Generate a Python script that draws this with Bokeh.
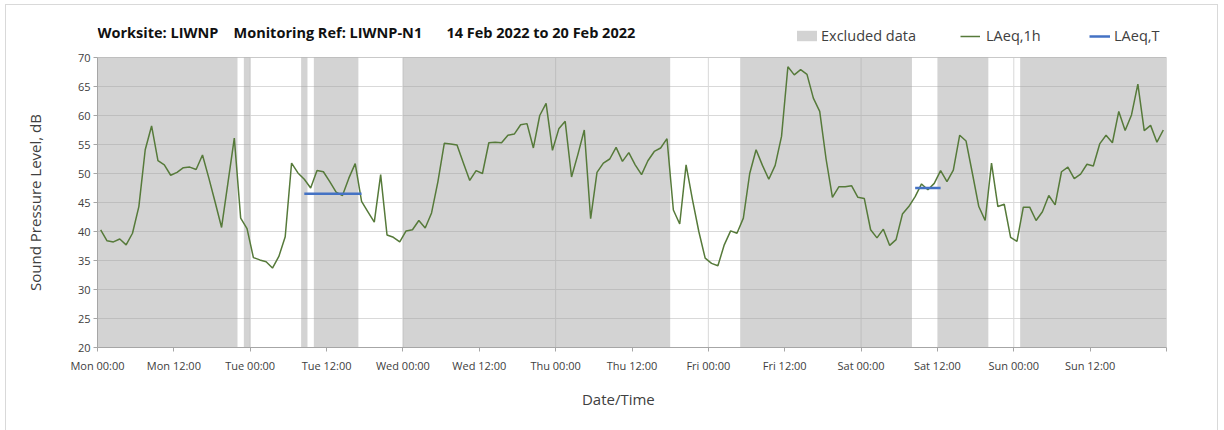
from bokeh.plotting import figure
from bokeh.models import (Range1d, FixedTicker, Legend, LegendItem, ColumnDataSource,
                          Label, BoxAnnotation)
from bokeh.embed import file_html
from bokeh.resources import INLINE

# ---------------- data ----------------
tick_hours = [0, 12, 24, 36, 48, 60, 72, 84, 96, 108, 120, 132, 144, 156, 168]
tick_labels = ["Mon 00:00", "Mon 12:00", "Tue 00:00", "Tue 12:00", "Wed 00:00",
               "Wed 12:00", "Thu 00:00", "Thu 12:00", "Fri 00:00", "Fri 12:00",
               "Sat 00:00", "Sat 12:00", "Sun 00:00", "Sun 12:00", ""]
day_hours = [0, 24, 48, 72, 96, 120, 144, 168]
y_ticks = [20, 25, 30, 35, 40, 45, 50, 55, 60, 65, 70]

# hourly LAeq,1h (dB), Mon 00:00 .. Sun 23:00, plotted at mid-hour
laeq_1h = [
    40.3, 38.4, 38.2, 38.7, 37.7, 39.7, 44.3, 54.1, 58.2, 52.2,
    51.5, 49.7, 50.2, 51.0, 51.1, 50.7, 53.2, 49.2, 45.0, 40.7,
    48.4, 56.1, 42.3, 40.5, 35.5, 35.1, 34.8, 33.7, 35.7, 39.1,
    51.8, 50.1, 49.0, 47.5, 50.5, 50.3, 48.6, 46.8, 46.2, 49.2,
    51.7, 45.2, 43.4, 41.6, 49.8, 39.4, 39.0, 38.2, 40.1, 40.3,
    41.9, 40.6, 43.2, 48.6, 55.2, 55.1, 54.9, 51.8, 48.8, 50.5,
    50.0, 55.3, 55.4, 55.3, 56.6, 56.8, 58.4, 58.6, 54.4, 60.0,
    62.1, 54.0, 57.7, 59.0, 49.4, 53.3, 57.5, 42.2, 50.2, 51.8,
    52.5, 54.5, 52.1, 53.6, 51.5, 49.8, 52.2, 53.8, 54.4, 56.0,
    43.7, 41.3, 51.5, 45.5, 40.0, 35.4, 34.5, 34.1, 37.7, 40.1,
    39.7, 42.3, 50.0, 54.1, 51.4, 49.0, 51.4, 56.4, 68.4, 67.0,
    67.9, 67.1, 63.0, 60.7, 52.5, 45.9, 47.7, 47.7, 47.9, 45.9,
    45.7, 40.3, 38.9, 40.4, 37.6, 38.6, 43.0, 44.3, 46.0, 48.2,
    47.2, 48.3, 50.5, 48.6, 50.6, 56.6, 55.6, 50.0, 44.3, 41.9,
    51.8, 44.3, 44.7, 39.0, 38.3, 44.2, 44.2, 41.9, 43.4, 46.2,
    44.6, 50.3, 51.1, 49.1, 49.9, 51.6, 51.3, 55.1, 56.6, 55.3,
    60.7, 57.4, 60.1, 65.4, 57.4, 58.3, 55.4, 57.5]
hours = [h + 0.5 for h in range(len(laeq_1h))]

# excluded periods (hours from Mon 00:00)
excl_start = [0, 23, 32, 34, 48, 101, 132, 145]
excl_end = [22, 24, 33, 41, 90, 128, 140, 168]

# LAeq,T periods
laeqT_start = [32.5, 128.5]
laeqT_end = [41.5, 132.5]
laeqT_val = [46.5, 47.5]

title_parts = ["Worksite: LIWNP", "Monitoring Ref: LIWNP-N1", "14 Feb 2022 to 20 Feb 2022"]

FONT = "Open Sans"
TXT = "#404040"
NB = "\u00a0"
X0, X1, Y0, Y1 = 0, 168, 20, 70
PX_PER_DB = 5.8
Y_TOP = Y1 + 39 / PX_PER_DB   # frame extends up to hold the header row

p = figure(width=1213, height=426, x_range=Range1d(X0, X1), y_range=Range1d(Y0, Y_TOP),
           output_backend="svg", toolbar_location=None, title=None,
           min_border_left=91, min_border_right=53, min_border_top=13, min_border_bottom=84)
p.styles = {"border": "1px solid #d9d9d9", "border-bottom": "none",
            "margin-left": "5px", "margin-top": "4px"}
p.outline_line_color = None

# vertical day gridlines (under the shading)
p.segment(x0=day_hours, y0=[Y0] * len(day_hours), x1=day_hours, y1=[Y1] * len(day_hours),
          line_color="#d9d9d9", line_width=1)

src_ex = ColumnDataSource(dict(left=excl_start, right=excl_end,
                               bottom=[Y0] * len(excl_start), top=[Y1] * len(excl_start)))
r_ex = p.quad(left="left", right="right", bottom="bottom", top="top", source=src_ex,
              fill_color="#a0a0a0", fill_alpha=0.46, line_color=None)

r_line = p.line(hours, laeq_1h, line_color="#567a3a", line_width=1.5)

r_T = p.segment(x0=laeqT_start, y0=laeqT_val, x1=laeqT_end, y1=laeqT_val,
                line_color="#4472c4", line_width=2.5)

p.add_layout(BoxAnnotation(left=X0, right=X1, bottom=Y0, top=Y1, fill_alpha=0,
                           line_color="#a6a6a6", line_width=1))

# grids
p.xgrid.grid_line_color = None
p.ygrid.ticker = FixedTicker(ticks=y_ticks)
p.ygrid.grid_line_color = "#d9d9d9"

# axes
p.xaxis.ticker = FixedTicker(ticks=tick_hours)
p.xaxis.major_label_overrides = {h: lab for h, lab in zip(tick_hours, tick_labels)}
p.yaxis.ticker = FixedTicker(ticks=y_ticks)
p.yaxis.bounds = (Y0, Y1)
for ax in (p.xaxis[0], p.yaxis[0]):
    ax.axis_line_color = "#a6a6a6"
    ax.major_tick_line_color = "#a6a6a6"
    ax.minor_tick_line_color = None
    ax.major_tick_in = 0
    ax.major_tick_out = 4
    ax.major_label_text_font = FONT
    ax.major_label_text_font_size = "11px"
    ax.major_label_text_color = TXT
    ax.axis_label_text_font = FONT
    ax.axis_label_text_font_style = "normal"
    ax.axis_label_text_color = TXT
# trailing no-break spaces shift the centred axis titles to where the reference has them
p.xaxis.axis_label = "Date/Time" + NB * 7
p.yaxis.axis_label = "Sound Pressure Level, dB" + NB * 10
p.xaxis.axis_label_text_font_size = "15px"
p.yaxis.axis_label_text_font_size = "15px"
p.xaxis.major_label_standoff = 6
p.yaxis.major_label_standoff = 3
p.xaxis.axis_label_standoff = 13
p.yaxis.axis_label_standoff = 30

# header title (three parts)
title_y = Y1 + 25 / PX_PER_DB
for txt, off in zip(title_parts, [0, 136, 349]):
    p.add_layout(Label(x=X0, y=title_y, x_offset=off, text=txt, text_font=FONT,
                       text_font_size="14.5px", text_font_style="bold", text_color="#111111",
                       text_baseline="middle", text_align="left"))

def add_leg(label, r, x, gw, gh, standoff):
    leg = Legend(items=[LegendItem(label=label, renderers=[r])], location=(x, 302),
                 orientation="horizontal", padding=0, margin=0, border_line_color=None,
                 background_fill_alpha=0, glyph_width=gw, glyph_height=gh,
                 label_standoff=standoff, label_height=16, label_text_font=FONT,
                 label_text_font_size="14.5px", label_text_color=TXT)
    p.add_layout(leg)

add_leg("Excluded data", r_ex, 697, 25, 13, 2)
add_leg("LAeq,1h", r_line, 863, 20, 10, 6)
add_leg("LAeq,T", r_T, 992, 21, 10, 4)

open("out.html", "w").write(file_html(p, INLINE))
